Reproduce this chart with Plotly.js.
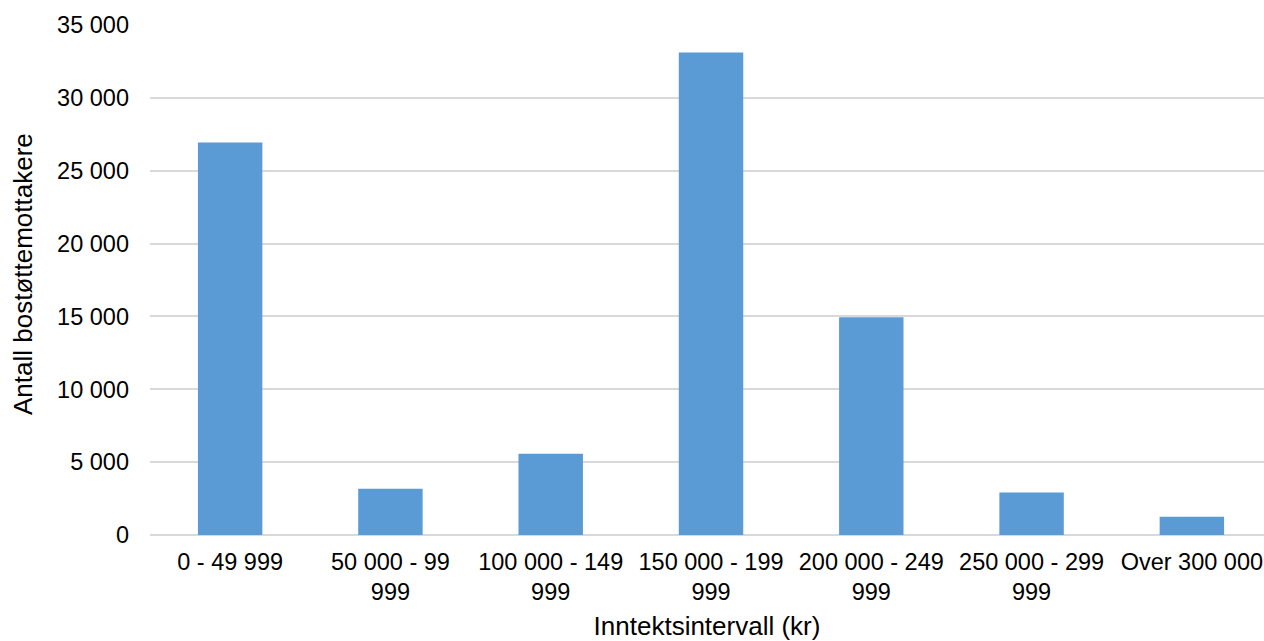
<!DOCTYPE html>
<html>
<head>
<meta charset="utf-8">
<script src="https://cdn.plot.ly/plotly-3.0.1.min.js"></script>
<style>
html,body{margin:0;padding:0;background:#fff;overflow:hidden;}
#chart{width:1264px;height:641px;}
</style>
</head>
<body>
<div id="chart"></div>
<script>
const categories = [
  "0 - 49 999",
  "50 000 - 99<br>999",
  "100 000 - 149<br>999",
  "150 000 - 199<br>999",
  "200 000 - 249<br>999",
  "250 000 - 299<br>999",
  "Over 300 000"
];
const values = [26930, 3180, 5580, 33120, 14950, 2920, 1250];
const yTickVals = [0, 5000, 10000, 15000, 20000, 25000, 30000, 35000];
const yTickText = ["0", "5 000", "10 000", "15 000", "20 000", "25 000", "30 000", "35 000"];
const xTitle = "Inntektsintervall (kr)";
const yTitle = "Antall bostøttemottakere";

const fam = "Liberation Sans, Arial, sans-serif";

Plotly.newPlot("chart", [{
  type: "bar",
  x: categories,
  y: values,
  marker: {color: "#5B9BD5"},
  hoverinfo: "x+y"
}], {
  width: 1264,
  height: 641,
  paper_bgcolor: "#ffffff",
  plot_bgcolor: "#ffffff",
  margin: {l: 150, r: 0, t: 25, b: 106},
  bargap: 0.598,
  showlegend: false,
  font: {family: fam, color: "#000"},
  xaxis: {
    type: "category",
    range: [-0.5, 6.45],
    tickfont: {family: fam, color: "#000", size: 23.5},
    ticklabelstandoff: 10,
    showgrid: false,
    zeroline: false,
    showline: false,
    automargin: false,
    title: {text: xTitle, font: {family: fam, color: "#000", size: 26}, standoff: 19}
  },
  yaxis: {
    range: [0, 35000],
    tickvals: yTickVals,
    ticktext: yTickText,
    tickfont: {family: fam, color: "#000", size: 23.5},
    ticklabelstandoff: 20,
    showgrid: true,
    gridcolor: "#D9D9D9",
    gridwidth: 1.5,
    zeroline: true,
    zerolinecolor: "#D9D9D9",
    zerolinewidth: 1.5,
    showline: false,
    automargin: false
  },
  annotations: [{
    text: yTitle,
    textangle: -90,
    xref: "paper", yref: "paper",
    x: 0, y: 0.5,
    xanchor: "center", yanchor: "middle",
    xshift: -127, yshift: 6,
    showarrow: false,
    font: {family: fam, color: "#000", size: 26}
  }]
}, {displayModeBar: false});
</script>
</body>
</html>
